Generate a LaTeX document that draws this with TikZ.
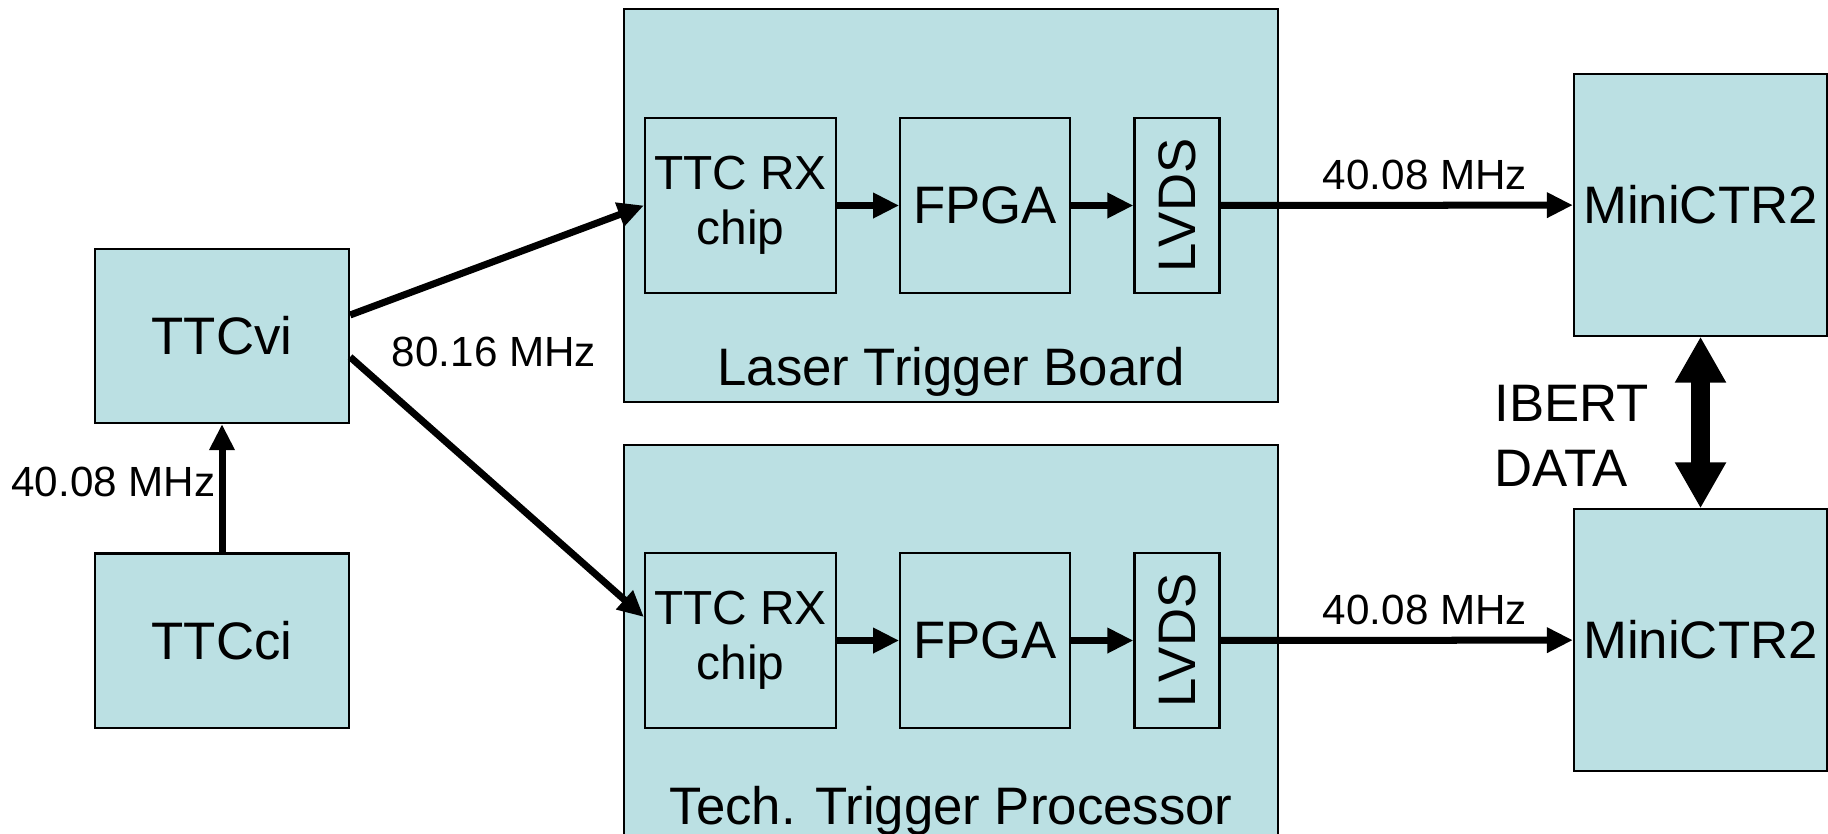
\documentclass[tikz,border=0pt]{standalone}
\usepackage{fontspec}
\setmainfont{Liberation Sans}
\usepackage{graphicx}
\usepackage{tikz}
\usetikzlibrary{arrows.meta,positioning}
\definecolor{boardfill}{HTML}{BBE0E3}
\newcommand\boxfont{\fontsize{15}{18.4}\selectfont}
\newcommand\chipfont{\fontsize{13.6}{15.6}\selectfont}
\newcommand\lblfont{\fontsize{12}{14}\selectfont}
\tikzset{
  blk/.style    ={draw=black,line width=0.6pt,fill=boardfill,inner sep=0pt,
                  align=center,font=\boxfont},
  board/.style  ={blk,minimum width=6.54cm,minimum height=3.93cm},
  unitbox/.style={blk,minimum width=2.54cm,minimum height=1.74cm},
  ctrbox/.style ={blk,minimum width=2.53cm,minimum height=2.61cm},
  partbox/.style={blk,minimum height=1.75cm},
  sig/.style    ={-{Triangle[length=2.6mm,width=2.4mm]},line width=0.07cm},
  dsig/.style   ={{Triangle[length=4.6mm,width=4.8mm]}-{Triangle[length=4.6mm,width=4.8mm]},
                  line width=0.19cm},
  lbl/.style    ={inner sep=0pt,font=\lblfont}
}

\begin{document}
\begin{tikzpicture}[x=0.01cm,y=-0.01cm]
  \clip (0,0) rectangle (1828,833);
  % clock sources
  \node[unitbox] (ttcvi) at (222,336) {TTCvi};
  \node[unitbox] (ttcci) at (222,640.5) {TTCci};
  % the two boards
  \node[board] (ltb) at (951,205.5) {};
  \node[board] (ttp) at (951,641.5) {};
  \node[font=\boxfont] (ltbname) at (951,372) {Laser Trigger Board};
  \node[font=\boxfont] (ttpname) at (951,811) {Tech. Trigger Processor};
  % receiver -> fpga -> lvds, upper board
  \node[partbox,minimum width=1.91cm,font=\chipfont] (rxa) at (740.5,205.5) {TTC RX\\chip};
  \node[partbox,minimum width=1.70cm,right=0.62cm of rxa] (fpa) {FPGA};
  \node[partbox,minimum width=0.85cm,right=0.62cm of fpa] (lva) {\rotatebox{90}{LVDS}};
  % same chain, lower board
  \node[partbox,minimum width=1.91cm,font=\chipfont] (rxb) at (740.5,640.5) {TTC RX\\chip};
  \node[partbox,minimum width=1.70cm,right=0.62cm of rxb] (fpb) {FPGA};
  \node[partbox,minimum width=0.85cm,right=0.62cm of fpb] (lvb) {\rotatebox{90}{LVDS}};
  % receivers
  \node[ctrbox] (mca) at (1700.5,205) {MiniCTR2};
  \node[ctrbox] (mcb) at (1700.5,640) {MiniCTR2};

  \draw[sig] (ttcci) -- node[lbl,left=0.03cm,pos=0.55] (fin) {40.08 MHz} (ttcvi);
  \draw[sig] ([yshift=0.21cm]ttcvi.east) -- (rxa.west);
  \draw[sig] ([yshift=-0.21cm]ttcvi.east) -- ([yshift=0.235cm]rxb.west);
  \node[lbl] (fdbl) at (494,352) {80.16 MHz};

  \draw[sig] (rxa) -- (fpa);
  \draw[sig] (fpa) -- (lva);
  \draw[sig] (lva) -- node[lbl,above=0.12cm,pos=0.58] (fouta) {40.08 MHz} (mca);
  \draw[sig] (rxb) -- (fpb);
  \draw[sig] (fpb) -- (lvb);
  \draw[sig] (lvb) -- node[lbl,above=0.12cm,pos=0.58] (foutb) {40.08 MHz} (mcb);

  \draw[dsig] (mca) -- (mcb);
  \node[font=\boxfont,align=left,inner sep=0pt,anchor=west] (ibert) at (1494,436) {IBERT\\DATA};
\end{tikzpicture}
\end{document}
